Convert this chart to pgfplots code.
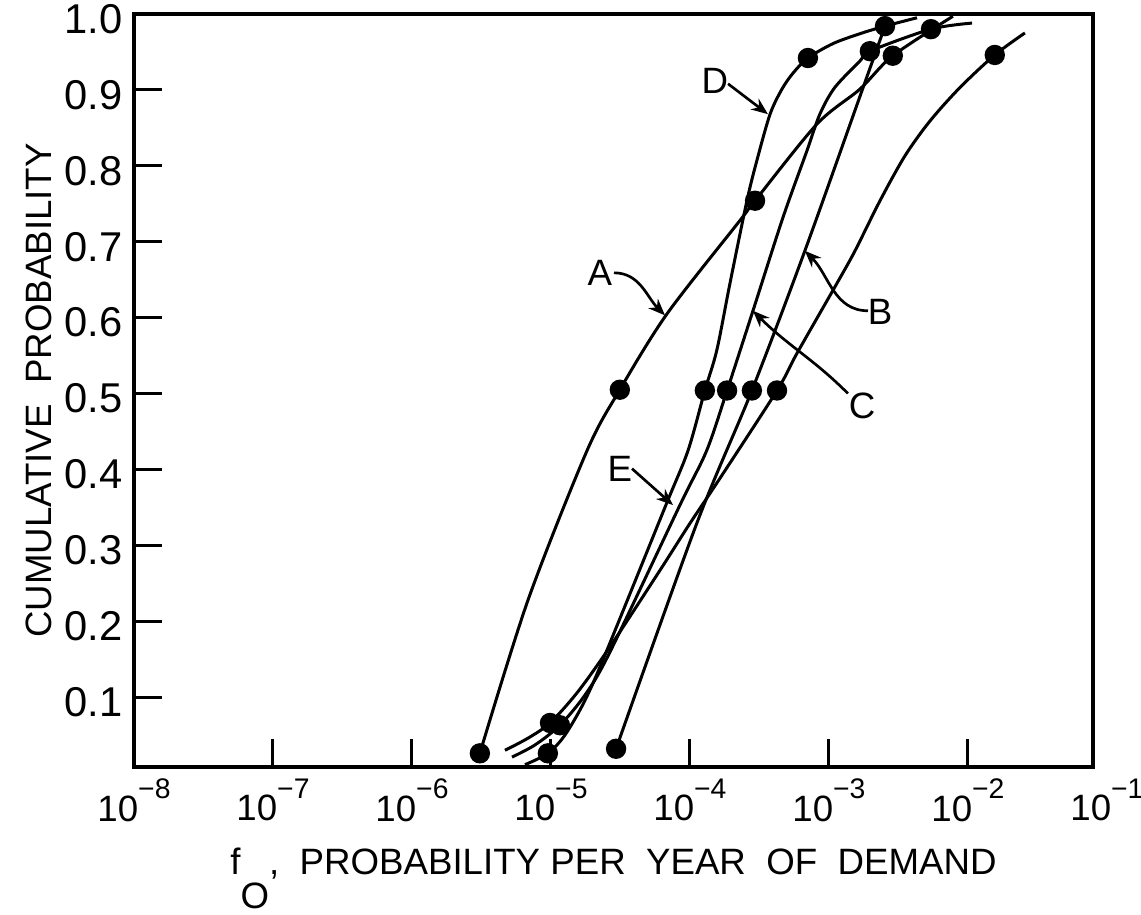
\documentclass[border=0pt]{standalone}
\usepackage{fontspec}
\setmainfont{Liberation Sans}
\usepackage{pgfplots}
\pgfplotsset{compat=1.18}
\usetikzlibrary{calc,arrows.meta}
\newcommand{\tp}[1]{10\raisebox{0.62em}{\fontsize{8.5}{8.5}\selectfont −#1}}
\begin{document}
\begin{tikzpicture}
\begin{axis}[name=ax, scale only axis, width=287.7pt, height=225.9pt,
  xmode=log, xmin=1e-8, xmax=0.0794, ymin=0.008, ymax=1.0,
  axis line style={line width=1.1pt},
  xtick={1e-8,1e-7,1e-6,1e-5,1e-4,1e-3,1e-2},
  xticklabels={\tp{8},\tp{7},\tp{6},\tp{5},\tp{4},\tp{3},\tp{2}},
  xminorticks=false, yminorticks=false,
  ytick={0.1,0.2,0.3,0.4,0.5,0.6,0.7,0.8,0.9,1.0},
  yticklabels={0.1,0.2,0.3,0.4,0.5,0.6,0.7,0.8,0.9,1.0},
  tick align=inside, major tick length=8.4pt,
  tick style={line width=0.9pt,black},
  xtick pos=bottom, ytick pos=left,
  xticklabel style={font=\fontsize{11}{12}\selectfont},
  yticklabel style={font=\fontsize{12.5}{13}\selectfont, yshift=-1.5pt},
  clip=false,
  xlabel={f\raisebox{-1.75ex}{O},\ \ PROBABILITY\ PER\ \ YEAR\ \ OF\ \ DEMAND},
  xlabel style={font=\fontsize{11}{12}\selectfont, yshift=-1pt},
  ylabel={CUMULATIVE\ \ PROBABILITY},
  ylabel style={font=\fontsize{11}{12}\selectfont, yshift=-3pt},
  every axis plot/.append style={line width=0.9pt, black},
]
% A
\addplot[smooth] coordinates {(3.08e-6,0.026) (6.84e-6,0.228) (1.82e-5,0.425) (3.13e-5,0.505) (6.84e-5,0.605) (2.29e-4,0.728) (2.94e-4,0.754) (8.20e-4,0.855) (1.67e-3,0.901) (2.88e-3,0.945) (7.80e-3,0.997)};
% D
\addplot[smooth] coordinates {(6.50e-6,0.011) (9.50e-6,0.026) (1.26e-5,0.050) (1.76e-5,0.096) (2.53e-5,0.162) (6.71e-5,0.353) (9.69e-5,0.425) (1.28e-4,0.504) (1.56e-4,0.557) (1.94e-4,0.645) (2.57e-4,0.754) (3.03e-4,0.807) (3.77e-4,0.868) (4.59e-4,0.901) (5.51e-4,0.922) (7.06e-4,0.942) (1.07e-3,0.961) (1.67e-3,0.974) (2.53e-3,0.984) (4.30e-3,0.995)};
% C
\addplot[smooth] coordinates {(5.24e-6,0.021) (7.67e-6,0.037) (1.16e-5,0.063) (1.76e-5,0.103) (2.65e-5,0.159) (8.47e-5,0.353) (1.32e-4,0.425) (1.85e-4,0.504) (2.84e-4,0.609) (4.67e-4,0.732) (6.95e-4,0.820) (8.60e-4,0.868) (1.10e-3,0.903) (1.67e-3,0.938) (1.97e-3,0.951) (5.42e-3,0.980) (1.07e-2,0.988)};
% B
\addplot[smooth] coordinates {(2.94e-5,0.032) (1.12e-4,0.329) (2.79e-4,0.504) (6.71e-4,0.688) (1.76e-3,0.903) (2.53e-3,0.984)};
% E
\addplot[smooth] coordinates {(4.67e-6,0.030) (6.84e-6,0.046) (9.84e-6,0.066) (1.56e-5,0.107) (2.65e-5,0.166) (6.08e-5,0.267) (1.0e-4,0.329) (1.56e-4,0.382) (4.23e-4,0.504) (5.89e-4,0.553) (1.14e-3,0.645) (1.54e-3,0.688) (2.33e-3,0.754) (3.52e-3,0.813) (5.33e-3,0.859) (8.75e-3,0.903) (1.56e-2,0.946) (2.57e-2,0.975)};
% dots
\addplot[only marks, mark=*, mark size=2.6pt] coordinates {
 (3.08e-6,0.026) (3.13e-5,0.505) (2.94e-4,0.754) (2.88e-3,0.945)
 (9.50e-6,0.026) (1.28e-4,0.504) (7.06e-4,0.942)
 (1.16e-5,0.063) (1.85e-4,0.504) (1.97e-3,0.951) (5.42e-3,0.980)
 (2.94e-5,0.032) (2.79e-4,0.504) (2.53e-3,0.984)
 (9.84e-6,0.066) (4.23e-4,0.504) (1.56e-2,0.946)};
% labels and arrows
\begin{scope}[font=\fontsize{11}{12}\selectfont, line width=0.8pt, >={Stealth[length=5pt,width=4pt,open]}]
\node at (axis cs:2.25e-5,0.659) {A};
\draw[->] (axis cs:2.84e-5,0.659) to[out=0,in=135] (axis cs:6.61e-5,0.603);
\node at (axis cs:1.51e-4,0.912) {D};
\draw[->] (axis cs:1.88e-4,0.908) -- (axis cs:3.64e-4,0.868);
\node at (axis cs:2.33e-3,0.607) {B};
\draw[->] (axis cs:1.91e-3,0.609) to[out=180,in=-45] (axis cs:6.71e-4,0.688);
\node at (axis cs:1.73e-3,0.484) {C};
\draw[->] (axis cs:1.37e-3,0.500) to[out=135,in=-45] (axis cs:2.84e-4,0.609);
\node at (axis cs:3.13e-5,0.401) {E};
\draw[->] (axis cs:3.83e-5,0.401) -- (axis cs:7.55e-5,0.353);
\end{scope}
\node[anchor=north, font=\fontsize{11}{12}\selectfont] at (axis cs:0.1,0.008) {\tp{1}};
\end{axis}
\pgfresetboundingbox
\path[use as bounding box] ($(ax.south west)+(-40.2pt,-44.4pt)$) rectangle ($(ax.north east)+(14.4pt,4.2pt)$);
\end{tikzpicture}
\end{document}
